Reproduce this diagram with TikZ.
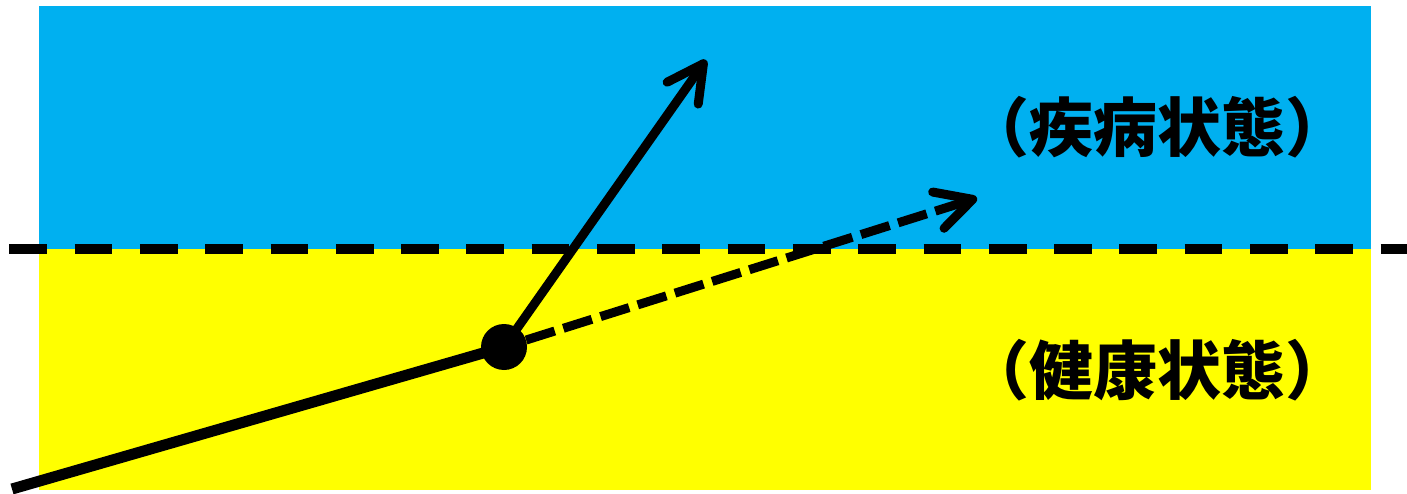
\documentclass[tikz,border=0pt]{standalone}
\usepackage{fontspec}
\newfontfamily\cjk{Noto Sans CJK JP}
\usetikzlibrary{arrows.meta}
\definecolor{skyblue}{HTML}{00B0F0}
\definecolor{brightyellow}{HTML}{FFFF00}
\tikzset{
  label/.style={font=\cjk\bfseries\fontsize{64}{70}\selectfont, text=black, inner sep=0pt},
  barb/.style={-{Straight Barb[length=36pt,width=38pt,line cap=round,line join=round]}},
}
\begin{document}
\begin{tikzpicture}[x=1pt,y=-1pt]
\useasboundingbox (0,0) rectangle (1407,494);
\fill[skyblue] (39,6) rectangle (1371,249);
\fill[brightyellow] (39,249) rectangle (1371,490);
\coordinate (dl) at (9.3,249);
\coordinate (dr) at (1407,249);
\draw[line width=10pt, dash pattern=on 37.7pt off 27.6pt] (dl) -- (dr);
\node[label] (sick) at (1157,127) {（疾病状態）};
\node[label] (healthy) at (1157,370) {（健康状態）};
\coordinate (start) at (12,489);
\coordinate (tipA) at (706,60);
\coordinate (tipB) at (977,198);
\node[circle, fill=black, minimum size=46pt, inner sep=0pt] (dot) at (504,347) {};
\draw[line width=11pt] (start) -- (dot.center);
\draw[line width=9pt, barb] (dot.center) -- (tipA);
\draw[line width=9pt, barb, dash pattern=on 30pt off 9pt] (dot) -- (tipB);
\end{tikzpicture}
\end{document}
